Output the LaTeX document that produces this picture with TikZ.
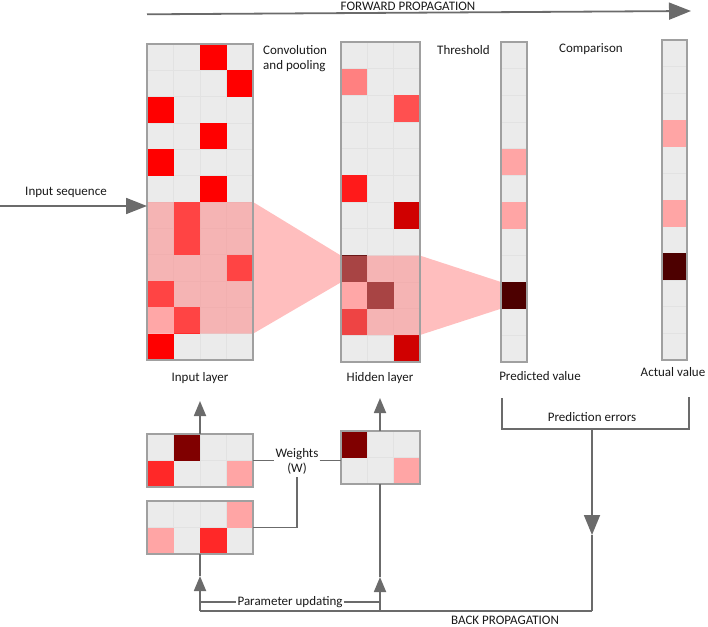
\documentclass[tikz,border=0pt]{standalone}
\usepackage{fontspec}
\setmainfont{Carlito}
\usetikzlibrary{arrows.meta}
\definecolor{cellbg}{HTML}{EBEBEB}
\definecolor{gridc}{HTML}{E2E2E2}
\definecolor{boxc}{HTML}{A0A0A0}
\definecolor{linec}{HTML}{6B6B6B}
\definecolor{ovl}{HTML}{FF8383}
\definecolor{cRed}{HTML}{FF0000}
\definecolor{cPale}{HTML}{FFD0D0}
\definecolor{cSalmon}{HTML}{FF8080}
\definecolor{cCoral}{HTML}{FF5050}
\definecolor{cRedB}{HTML}{FF1A1A}
\definecolor{cDark}{HTML}{D00000}
\definecolor{cDeep}{HTML}{4A0000}
\definecolor{cRedC}{HTML}{DC0000}
\definecolor{cPink}{HTML}{FFA5A5}
\definecolor{cBlack}{HTML}{4D0000}
\definecolor{cMaroon}{HTML}{800000}
\definecolor{cRedW}{HTML}{FF2828}
\newcommand\layerfill[7]{%
  \fill[cellbg] (#1,#2) rectangle ({#1+#3*#5},{#2+#4*#6});
  \foreach \i in {0,...,#3} \draw[gridc, line width=0.5pt] ({#1+\i*#5},#2) -- ({#1+\i*#5},{#2+#4*#6});
  \foreach \j in {0,...,#4} \draw[gridc, line width=0.5pt] (#1,{#2+\j*#6}) -- ({#1+#3*#5},{#2+\j*#6});
  \foreach \c/\r/\k in {#7} \fill[fill=\k] ({#1+\c*#5},{#2+\r*#6}) rectangle ({#1+(\c+1)*#5},{#2+(\r+1)*#6});
}
\begin{document}
\begin{tikzpicture}[x=1pt,y=-1pt,
  every node/.style={font=\fontsize{13}{15}\selectfont, text=black!90, inner sep=1pt},
  box/.style={draw=boxc, line width=1.5pt, anchor=north west, inner sep=0pt, outer sep=0pt},
  conn/.style={draw=linec, line width=1.8pt}]
\useasboundingbox (0,0) rectangle (708,626);

% layers
\layerfill{147}{44}{4}{12}{26.5}{26.33}{2/0/cRed,3/1/cRed,0/2/cRed,2/3/cRed,0/4/cRed,2/5/cRed,1/6/cRed,1/7/cRed,3/8/cRed,0/9/cRed,1/10/cRed,0/10/cPale,0/11/cRed}
\layerfill{341}{42}{3}{12}{26.33}{26.67}{0/1/cSalmon,2/2/cCoral,0/5/cRedB,2/6/cDark,0/8/cDeep,1/9/cDeep,0/9/cPale,0/10/cRedC,2/11/cDark}
\layerfill{501}{42}{1}{12}{26}{26.67}{0/4/cPink,0/6/cPink,0/9/cBlack}
\layerfill{662}{40}{1}{12}{25}{26.67}{0/3/cPink,0/6/cPink,0/8/cBlack}
\layerfill{147}{434}{4}{2}{26.5}{26.5}{1/0/cMaroon,0/1/cRedW,3/1/cPink}
\layerfill{147}{501}{4}{2}{26.5}{26.5}{3/0/cPink,0/1/cPink,2/1/cRedW}
\layerfill{341}{431}{3}{2}{26.33}{26.5}{0/0/cMaroon,2/1/cPink}

% receptive field overlays
\fill[ovl, fill opacity=0.52]
  (147,202) -- (253,202) -- (341,255.6) -- (341,282.3) -- (253,333.7) -- (147,333.7) -- cycle
  (341,255.6) -- (420,255.6) -- (501,282) -- (501,308.7) -- (420,335) -- (341,335) -- cycle;

% layer borders
\node[box, minimum width=106pt, minimum height=316pt] (inL) at (147,44) {};
\node[box, minimum width=79pt, minimum height=320pt] (hidL) at (341,42) {};
\node[box, minimum width=26pt, minimum height=320pt] (pred) at (501,42) {};
\node[box, minimum width=25pt, minimum height=320pt] (act) at (662,40) {};
\node[box, minimum width=106pt, minimum height=53pt] (wA) at (147,434) {};
\node[box, minimum width=106pt, minimum height=53pt] (wB) at (147,501) {};
\node[box, minimum width=79pt, minimum height=53pt] (wC) at (341,431) {};

% labels
\node (tFwd) at (408,6) {FORWARD PROPAGATION};
\node[anchor=west, align=left] (tConv) at (262,58.5) {Convolution\\and pooling};
\node[anchor=west] (tThr) at (436,50) {Threshold};
\node[anchor=west] (tCmp) at (558,49) {Comparison};
\node (tIn) at (66,192) {Input sequence};
\node (tInL) at (200,378) {Input layer};
\node (tHid) at (380,378) {Hidden layer};
\node (tPred) at (540,376) {Predicted value};
\node (tAct) at (673,372) {Actual value};
\node (tPE) at (592,417) {Prediction errors};
\node[align=center] (tW) at (297,461) {Weights\\(W)};
\node (tPU) at (290,602) {Parameter updating};
\node (tBP) at (505,620) {BACK PROPAGATION};

% forward & input arrows
\coordinate (f0) at (147,14.3);
\coordinate (f1) at (691,11);
\draw[conn, -{Triangle[length=22pt,width=17pt]}] (f0) -- (f1);
\coordinate (i0) at (0,206);
\draw[conn, -{Triangle[length=21pt,width=16pt]}] (i0) -- (i0 -| inL.west);

% weights connections
\draw[conn] (wA.east |- 0,460.5) -- (tW.west |- 0,460.5);
\draw[conn] (tW.east |- 0,460.5) -- (wC.west |- 0,460.5);
\coordinate (wd0) at (297,477);
\coordinate (wd1) at (297,527.5);
\draw[conn] (wd0) -- (wd1) -- (wd1 -| wB.east);
\coordinate (uA) at (200,401);
\coordinate (uC) at (380,398);
\draw[conn, -{Triangle[length=15pt,width=12pt]}] (wA.north -| uA) -- (uA);
\draw[conn, -{Triangle[length=15pt,width=12pt]}] (wC.north -| uC) -- (uC);

% prediction errors bracket
\coordinate (pb0) at (501.7,398);
\coordinate (pb1) at (501.7,429);
\coordinate (pb2) at (689,429);
\coordinate (pb3) at (689,397);
\coordinate (pm) at (592,429);
\coordinate (pt) at (592,535);
\coordinate (pbot) at (592,611);
\draw[conn] (pb0) -- (pb1) -- (pb2) -- (pb3);
\draw[conn, -{Triangle[length=20pt,width=16pt]}] (pm) -- (pt);
\draw[conn] (pt) -- (pbot);

% back propagation
\coordinate (bA) at (200,611);
\coordinate (bC) at (380,611);
\coordinate (aA) at (200,576);
\coordinate (aC) at (380,577);
\draw[conn] (pbot) -- (bA);
\draw[conn, -{Triangle[length=15pt,width=12pt]}] (bA) -- (aA);
\draw[conn] (aA) -- (wB.south -| aA);
\draw[conn, -{Triangle[length=15pt,width=12pt]}] (bC) -- (aC);
\draw[conn] (aC) -- (wC.south -| aC);
\draw[conn] (200,602) -- (tPU.west);
\draw[conn] (tPU.east) -- (380,602);
\end{tikzpicture}
\end{document}
